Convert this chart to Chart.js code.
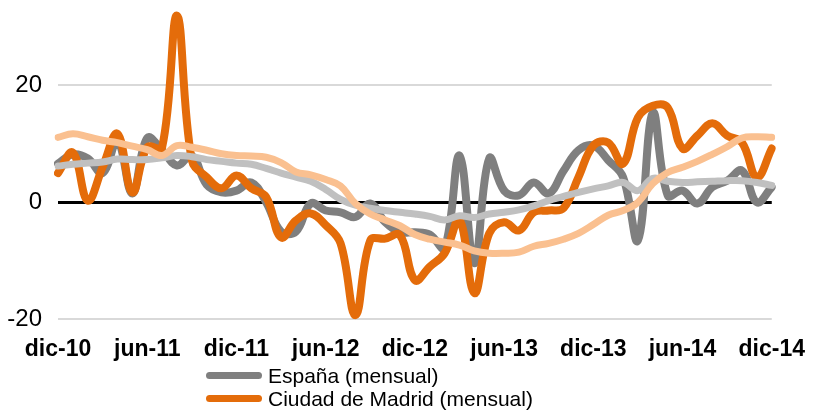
<!DOCTYPE html>
<html>
<head>
<meta charset="utf-8">
<script src="https://cdn.jsdelivr.net/npm/chart.js@4.4.1/dist/chart.umd.min.js"></script>
<style>
  html, body { margin: 0; padding: 0; background: #fff; overflow: hidden; }
  #wrap { position: relative; width: 813px; height: 410px; overflow: hidden; }
  #chartBox { position: absolute; left: 0; top: -30px; width: 813px; height: 401px; }
  #leyenda { position: absolute; left: 206px; top: 364px; font-family: "Liberation Sans", Arial, sans-serif; font-size: 21px; color: #000; }
  .item { display: flex; align-items: center; height: 23px; white-space: nowrap; }
  .muestra { width: 56px; height: 7px; border-radius: 4px; margin-right: 6px; }
</style>
</head>
<body>
<div id="wrap">
  <div id="chartBox"><canvas id="grafico"></canvas></div>
  <div id="leyenda"></div>
</div>
<script>
const meses = [
  "dic-10", "ene-11", "feb-11", "mar-11", "abr-11", "may-11", "jun-11", "jul-11", "ago-11", "sep-11", "oct-11", "nov-11",
  "dic-11", "ene-12", "feb-12", "mar-12", "abr-12", "may-12", "jun-12", "jul-12", "ago-12", "sep-12", "oct-12", "nov-12",
  "dic-12", "ene-13", "feb-13", "mar-13", "abr-13", "may-13", "jun-13", "jul-13", "ago-13", "sep-13", "oct-13", "nov-13",
  "dic-13", "ene-14", "feb-14", "mar-14", "abr-14", "may-14", "jun-14", "jul-14", "ago-14", "sep-14", "oct-14", "nov-14",
  "dic-14"
];

const espanaMensual = [
  6.6, 8.2, 7.5, 5.0, 10.5, 1.5, 11.0, 8.9, 6.3, 8.0, 3.0, 1.7,
  2.0, 3.4, 0.0, -5.0, -5.0, -0.2, -1.4, -1.7, -2.5, -0.2, -3.4, -5.1,
  -5.1, -5.5, -7.8, 8.0, -10.4, 7.5, 2.0, 1.2, 3.4, 1.5, 5.4, 8.9,
  9.7, 7.2, 4.3, -6.5, 15.3, 1.2, 2.0, -0.2, 2.6, 3.7, 5.4, 0.0,
  2.6
];

const madridMensual = [
  5.0, 8.5, 0.3, 6.0, 11.7, 1.7, 9.4, 9.4, 31.9, 7.2, 4.3, 2.4,
  4.6, 2.4, 0.9, -6.0, -3.1, -1.9, -3.9, -7.0, -19.3, -6.5, -6.2, -5.6,
  -13.3, -11.0, -8.7, -3.0, -15.5, -5.3, -3.4, -4.8, -1.7, -1.4, -1.0, 4.3,
  9.7, 10.2, 6.6, 14.5, 16.5, 16.2, 9.2, 11.4, 13.5, 11.4, 10.2, 4.3,
  9.2
];

const espanaAnual = [
  6.2, 6.5, 6.7, 6.9, 7.4, 7.3, 7.3, 7.6, 8.0, 7.8, 7.3, 7.0,
  6.7, 6.5, 5.8, 5.0, 4.3, 3.6, 2.2, 0.5, -0.5, -1.0, -1.4, -1.7,
  -2.0, -2.4, -3.0, -2.3, -2.6, -2.0, -1.7, -1.3, -0.6, 0.3, 1.0, 1.7,
  2.3, 2.8, 3.4, 2.0, 4.1, 3.6, 3.4, 3.5, 3.6, 3.7, 3.7, 3.4,
  2.9
];

const madridAnual = [
  11.1, 11.7, 11.2, 10.6, 10.2, 9.6, 9.0, 8.0, 9.7, 9.4, 8.9, 8.3,
  8.0, 7.9, 7.7, 6.8, 5.2, 4.7, 3.9, 2.8, -0.2, -2.0, -3.0, -4.0,
  -5.5, -6.3, -6.8, -7.3, -8.3, -8.7, -8.7, -8.5, -7.5, -7.0, -6.3, -5.3,
  -3.8, -2.2, -1.4, 0.0, 3.2, 5.1, 6.0, 7.0, 8.2, 9.5, 11.0, 11.2,
  11.1
];

const ticksY = [-20, 0, 20];

const series = [
  { label: "España (mensual)", data: espanaMensual, color: "#7f7f7f", ancho: 8, orden: 4 },
  { label: "Ciudad de Madrid (mensual)", data: madridMensual, color: "#e46c0a", ancho: 8, orden: 3 },
  { label: "España (media anual)", data: espanaAnual, color: "#c0c0c0", ancho: 7, orden: 2 },
  { label: "Ciudad de Madrid (media anual)", data: madridAnual, color: "#fac090", ancho: 7, orden: 1 }
];

const datasets = series.map(s => ({
  label: s.label,
  data: s.data,
  borderColor: s.color,
  backgroundColor: s.color,
  borderWidth: s.ancho,
  pointRadius: 0,
  tension: 0.4,
  fill: false,
  borderCapStyle: "round",
  borderJoinStyle: "round",
  order: s.orden
}));

const ctx = document.getElementById("grafico").getContext("2d");
const grafico = new Chart(ctx, {
  type: "line",
  data: { labels: meses, datasets: datasets },
  options: {
    responsive: true,
    maintainAspectRatio: false,
    animation: false,
    layout: { padding: { top: 0, right: 38, bottom: 0, left: 0 } },
    plugins: {
      legend: { display: false },
      tooltip: { enabled: false }
    },
    scales: {
      x: {
        grid: { display: false },
        border: { display: false },
        ticks: {
          autoSkip: false,
          maxRotation: 0,
          padding: 8,
          color: "#000",
          font: { family: "'Liberation Sans', Arial, sans-serif", size: 23, weight: "bold" },
          callback: function(val, i) { return i % 6 === 0 ? meses[i] : null; }
        }
      },
      y: {
        min: -20,
        max: 34.5,
        afterBuildTicks: function(scale) { scale.ticks = ticksY.map(v => ({ value: v })); },
        afterFit: function(scale) { scale.width = 58; },
        border: { display: false },
        grid: {
          drawTicks: false,
          color: c => c.tick && c.tick.value === 0 ? "#000" : "#d9d9d9",
          lineWidth: c => c.tick && c.tick.value === 0 ? 3 : 2
        },
        ticks: {
          padding: 16,
          color: "#000",
          font: { family: "'Liberation Sans', Arial, sans-serif", size: 24 }
        }
      }
    }
  }
});

// leyenda en HTML, una entrada por fila
const leyenda = document.getElementById("leyenda");
series.forEach(s => {
  const fila = document.createElement("div");
  fila.className = "item";
  fila.innerHTML = `<span class="muestra" style="background:${s.color}"></span><span>${s.label}</span>`;
  leyenda.appendChild(fila);
});
</script>
</body>
</html>
